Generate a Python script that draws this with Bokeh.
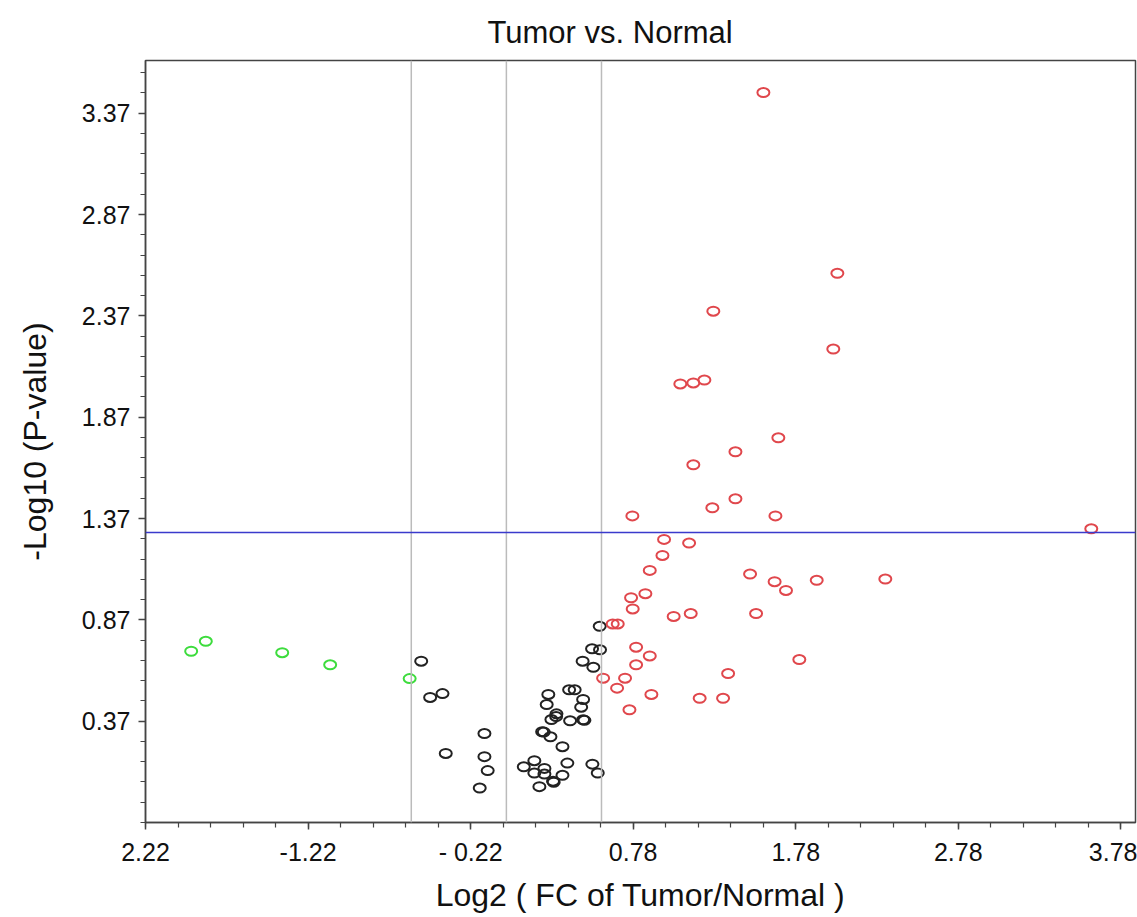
import numpy as np
from bokeh.plotting import figure
from bokeh.models import FixedTicker, Span
from bokeh.embed import file_html
from bokeh.resources import INLINE

# ---- data ----
green_x = [-1.939, -1.849, -1.379, -1.084, -0.595]
green_y = [0.715, 0.764, 0.708, 0.648, 0.580]

black_x = [-0.524, -0.469, -0.393, -0.373, -0.135, -0.135, -0.115, -0.164, 0.107, 0.172,
           0.234, 0.172, 0.234, 0.203, 0.287, 0.291, 0.345, 0.375, 0.345, 0.220,
           0.230, 0.271, 0.277, 0.308, 0.306, 0.248, 0.258, 0.392, 0.386, 0.420,
           0.472, 0.460, 0.472, 0.480, 0.469, 0.535, 0.527, 0.576, 0.574, 0.529, 0.562]
black_y = [0.666, 0.487, 0.506, 0.211, 0.309, 0.195, 0.126, 0.040, 0.145, 0.175,
           0.137, 0.114, 0.109, 0.047, 0.074, 0.069, 0.103, 0.163, 0.244, 0.318,
           0.316, 0.293, 0.378, 0.406, 0.393, 0.452, 0.502, 0.372, 0.525, 0.525,
           0.477, 0.439, 0.377, 0.374, 0.666, 0.636, 0.727, 0.722, 0.838, 0.158, 0.114]

red_x = [1.581, 2.036, 1.273, 2.011, 1.070, 1.150, 1.218, 1.673, 1.409, 1.150,
         1.409, 1.267, 0.775, 1.655, 3.598, 0.970, 1.124, 0.960, 0.882, 1.499,
         1.650, 1.720, 1.909, 2.331, 0.767, 0.855, 0.777, 1.029, 1.134, 1.536,
         0.654, 0.685, 0.798, 0.882, 0.798, 0.595, 0.730, 0.681, 1.364, 1.802,
         0.892, 1.189, 1.333, 0.757]
red_y = [3.472, 2.580, 2.393, 2.206, 2.034, 2.039, 2.053, 1.768, 1.699, 1.635,
         1.467, 1.423, 1.383, 1.383, 1.319, 1.267, 1.249, 1.188, 1.114, 1.096,
         1.058, 1.015, 1.065, 1.071, 0.979, 0.999, 0.924, 0.887, 0.901, 0.901,
         0.850, 0.850, 0.735, 0.692, 0.648, 0.582, 0.582, 0.533, 0.605, 0.674,
         0.502, 0.483, 0.483, 0.426]

x_ticks = [-2.22, -1.22, -0.22, 0.78, 1.78, 2.78, 3.78]
x_tick_labels = ["2.22", "-1.22", "- 0.22", "0.78", "1.78", "2.78", "3.78"]
y_ticks = [0.37, 0.87, 1.37, 1.87, 2.37, 2.87, 3.37]
y_tick_labels = ["0.37", "0.87", "1.37", "1.87", "2.37", "2.87", "3.37"]

fc_cutoffs = [-0.585, 0.0, 0.585]
p_cutoff = 1.301

FONT = "Liberation Sans"

p = figure(width=1137, height=917, x_range=(-2.22, 3.87), y_range=(-0.13, 3.63),
           output_backend="svg", toolbar_location=None,
           min_border_left=145, min_border_right=2, min_border_top=60, min_border_bottom=95,
           title="Tumor vs. Normal")

p.title.text_font = FONT
p.title.text_font_size = "31px"
p.title.text_font_style = "normal"
p.title.text_color = "#111111"
p.title.align = "left"
p.title.offset = 342
p.title.standoff = 22

p.xgrid.visible = False
p.ygrid.visible = False
p.outline_line_color = "#444444"
p.outline_line_width = 1.5
p.background_fill_color = "white"
p.border_fill_color = "white"

x_minor = [round(v, 2) for v in np.arange(-2.22, 3.87, 0.2)]
y_minor = [round(v, 2) for v in np.arange(-0.13, 3.63, 0.1)]
p.xaxis.ticker = FixedTicker(ticks=x_ticks, minor_ticks=x_minor)
p.yaxis.ticker = FixedTicker(ticks=y_ticks, minor_ticks=y_minor)
p.xaxis.major_label_overrides = {t: l for t, l in zip(x_ticks, x_tick_labels)}
p.yaxis.major_label_overrides = {t: l for t, l in zip(y_ticks, y_tick_labels)}

for ax in (p.xaxis, p.yaxis):
    ax.axis_line_color = "#444444"
    ax.axis_line_width = 1.5
    ax.major_tick_line_color = "#444444"
    ax.minor_tick_line_color = "#444444"
    ax.major_tick_line_width = 1.5
    ax.minor_tick_line_width = 1.2
    ax.major_tick_out = 7
    ax.major_tick_in = 0
    ax.minor_tick_out = 5
    ax.minor_tick_in = 0
    ax.major_label_text_font = FONT
    ax.major_label_text_font_size = "25px"
    ax.major_label_text_color = "#111111"
    ax.axis_label_text_font = FONT
    ax.axis_label_text_font_size = "32px"
    ax.axis_label_text_font_style = "normal"
    ax.axis_label_text_color = "#111111"

p.xaxis.axis_label = "Log2 ( FC of Tumor/Normal )"
p.yaxis.axis_label = "-Log10 (P-value)"
p.xaxis.major_label_standoff = 8
p.xaxis.axis_label_standoff = 8
p.yaxis.major_label_standoff = 8
p.yaxis.axis_label_standoff = 26

for v in fc_cutoffs:
    p.add_layout(Span(location=v, dimension="height", line_color="#bbbbbb", line_width=1.5))
p.add_layout(Span(location=p_cutoff, dimension="width", line_color="#3a3acc", line_width=1.5))

common = dict(width=12, height=9, width_units="screen", height_units="screen",
              fill_color=None, line_width=2)
p.ellipse(black_x, black_y, line_color="#222222", **common)
p.ellipse(green_x, green_y, line_color="#3ddc3d", **common)
p.ellipse(red_x, red_y, line_color="#e0474c", **common)

open("out.html", "w").write(file_html(p, INLINE))
